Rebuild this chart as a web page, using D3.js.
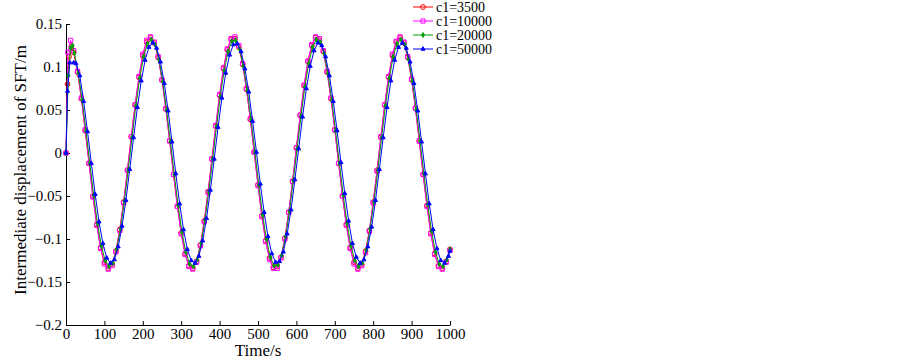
<!DOCTYPE html>
<html><head><meta charset="utf-8">
<script src="https://cdn.jsdelivr.net/npm/d3@7"></script>
<style>body{margin:0;background:#fff} svg{display:block} text{font-family:"Liberation Serif","Times New Roman",serif;fill:#000}</style>
</head><body>
<svg id="c" width="903" height="361" font-family="Liberation Serif, Times New Roman, serif"></svg>
<script>
const seriesNames = ["c1=3500","c1=10000","c1=20000","c1=50000"];
const seriesColors = ["#ff0000","#ff00ff","#00a000","#0000ff"];

const timeRed = [0,4,8,14,20,30,40,50,60,70,80,90,100,110,120,130,140,150,160,170,180,190,200,210,220,230,240,250,260,270,280,290,300,310,320,330,340,350,360,370,380,390,400,410,420,430,440,450,460,470,480,490,500,510,520,530,540,550,560,570,580,590,600,610,620,630,640,650,660,670,680,690,700,710,720,730,740,750,760,770,780,790,800,810,820,830,840,850,860,870,880,890,900,910,920,930,940,950,960,970,980,990,1000];
const valRed = [0,0.080,0.112,0.124,
0.117,0.094,0.063,0.026,-0.012,-0.050,-0.083,-0.110,-0.127,-0.134,
-0.129,-0.114,-0.089,-0.057,-0.020,0.019,0.056,0.088,0.113,0.129,
0.134,0.128,0.111,0.085,0.051,0.014,-0.025,-0.062,-0.093,-0.117,
-0.131,-0.134,-0.126,-0.107,-0.079,-0.045,-0.007,0.031,0.067,0.098,
0.120,0.132,0.133,0.123,0.103,0.074,0.039,0.001,-0.037,-0.073,
-0.102,-0.122,-0.133,-0.132,-0.121,-0.099,-0.069,-0.033,0.006,0.044,
0.078,0.106,0.125,0.134,0.131,0.118,0.094,0.063,0.027,-0.012,
-0.050,-0.083,-0.110,-0.127,-0.134,-0.130,-0.114,-0.090,-0.057,-0.020,
0.018,0.056,0.088,0.113,0.129,0.134,0.128,0.111,0.085,0.052,
0.014,-0.025,-0.061,-0.093,-0.117,-0.131,-0.134,-0.126,-0.112];

const timeMagenta = [0,5,12,20,30,40,50,60,70,80,90,100,110,120,130,140,150,160,170,180,190,200,210,220,230,240,250,260,270,280,290,300,310,320,330,340,350,360,370,380,390,400,410,420,430,440,450,460,470,480,490,500,510,520,530,540,550,560,570,580,590,600,610,620,630,640,650,660,670,680,690,700,710,720,730,740,750,760,770,780,790,800,810,820,830,840,850,860,870,880,890,900,910,920,930,940,950,960,970,980,990,1000];
const valMagenta = [0,0.117,0.131,
0.119,0.095,0.064,0.027,-0.012,-0.051,-0.084,-0.111,-0.129,-0.135,
-0.131,-0.115,-0.090,-0.058,-0.020,0.019,0.056,0.089,0.115,0.131,
0.135,0.129,0.112,0.085,0.052,0.014,-0.025,-0.062,-0.094,-0.118,
-0.132,-0.135,-0.127,-0.108,-0.080,-0.046,-0.007,0.032,0.068,0.099,
0.121,0.133,0.135,0.125,0.104,0.075,0.040,0.001,-0.038,-0.074,
-0.103,-0.124,-0.134,-0.134,-0.122,-0.100,-0.069,-0.033,0.006,0.044,
0.079,0.107,0.126,0.135,0.133,0.119,0.095,0.064,0.027,-0.012,
-0.050,-0.084,-0.111,-0.129,-0.135,-0.131,-0.116,-0.091,-0.058,-0.021,
0.019,0.056,0.089,0.115,0.130,0.135,0.129,0.112,0.086,0.052,
0.014,-0.025,-0.062,-0.094,-0.118,-0.132,-0.135,-0.127,-0.113];

const timeGreen = [0,6,12,17,22,32,42,52,62,72,82,92,102,112,122,132,142,152,162,172,182,192,202,212,222,232,242,252,262,272,282,292,302,312,322,332,342,352,362,372,382,392,402,412,422,432,442,452,462,472,482,492,502,512,522,532,542,552,562,572,582,592,602,612,622,632,642,652,662,672,682,692,702,712,722,732,742,752,762,772,782,792,802,812,822,832,842,852,862,872,882,892,902,912,922,932,942,952,962,972,982,992,1000];
const valGreen = [0,0.090,0.122,0.125,
0.116,0.093,0.062,0.026,-0.012,-0.049,-0.082,-0.108,-0.125,-0.132,
-0.128,-0.112,-0.088,-0.056,-0.020,0.018,0.055,0.087,0.112,0.127,
0.132,0.126,0.109,0.083,0.050,0.013,-0.025,-0.061,-0.092,-0.115,
-0.129,-0.132,-0.124,-0.105,-0.078,-0.045,-0.007,0.031,0.066,0.096,
0.118,0.130,0.131,0.121,0.101,0.073,0.039,0.001,-0.037,-0.072,
-0.100,-0.121,-0.131,-0.130,-0.119,-0.097,-0.068,-0.032,0.005,0.043,
0.077,0.104,0.123,0.132,0.129,0.116,0.093,0.062,0.026,-0.012,
-0.049,-0.082,-0.108,-0.125,-0.132,-0.128,-0.113,-0.088,-0.057,-0.020,
0.018,0.055,0.087,0.112,0.127,0.132,0.126,0.109,0.084,0.051,
0.014,-0.024,-0.060,-0.091,-0.115,-0.129,-0.132,-0.124,-0.112];

const timeBlue = [0,4,10,20,26,36,46,56,66,76,86,96,106,116,126,136,146,156,166,176,186,196,206,216,226,236,246,256,266,276,286,296,306,316,326,336,346,356,366,376,386,396,406,416,426,436,446,456,466,476,486,496,506,516,526,536,546,556,566,576,586,596,606,616,626,636,646,656,666,676,686,696,706,716,726,736,746,756,766,776,786,796,806,816,826,836,846,856,866,876,886,896,906,916,926,936,946,956,966,976,986,996,1000];
const valBlue = [0,0.072,0.105,0.105,0.104,
0.090,0.060,0.025,-0.012,-0.048,-0.080,-0.105,-0.122,-0.128,
-0.124,-0.109,-0.085,-0.055,-0.019,0.018,0.053,0.084,0.108,0.123,
0.128,0.122,0.106,0.081,0.049,0.013,-0.024,-0.059,-0.089,-0.112,
-0.125,-0.128,-0.120,-0.102,-0.076,-0.043,-0.007,0.030,0.064,0.093,
0.114,0.126,0.127,0.118,0.098,0.071,0.037,0.001,-0.036,-0.069,
-0.097,-0.117,-0.127,-0.126,-0.115,-0.094,-0.066,-0.031,0.005,0.042,
0.075,0.101,0.119,0.128,0.125,0.112,0.090,0.060,0.026,-0.011,
-0.047,-0.079,-0.105,-0.121,-0.128,-0.124,-0.109,-0.086,-0.055,-0.019,
0.018,0.053,0.084,0.108,0.123,0.128,0.122,0.106,0.081,0.049,
0.013,-0.024,-0.059,-0.089,-0.111,-0.125,-0.128,-0.120,-0.114];

const xTicks = [0,100,200,300,400,500,600,700,800,900,1000];
const yTicks = [-0.2,-0.15,-0.1,-0.05,0,0.05,0.1,0.15];
const xLabel = "Time/s";
const yLabel = "Intermediate displacement of SFT/m";

const FONT = "Liberation Serif, Times New Roman, serif";
const svg = d3.select("#c");
const x = d3.scaleLinear().domain([0,1000]).range([66,450]);
const y = d3.scaleLinear().domain([-0.2,0.15]).range([325,24]);

const fmt = d => { const s = String(+(+d).toFixed(2)); return s.replace("-", "\u2212"); };

const gx = svg.append("g").attr("transform","translate(0,325)")
  .call(d3.axisBottom(x).tickValues(xTicks).tickSizeInner(-4).tickSizeOuter(0).tickPadding(3).tickFormat(d=>String(d)));
const gy = svg.append("g").attr("transform","translate(66,0)")
  .call(d3.axisLeft(y).tickValues(yTicks).tickSizeInner(-4).tickSizeOuter(0).tickPadding(4).tickFormat(fmt));
[gx,gy].forEach(g=>{
  g.attr("font-family",FONT).attr("font-size",15);
  g.selectAll("text").attr("font-family",FONT).style("font-family",FONT).style("font-size","15px").attr("fill","#000");
  g.selectAll("line,path").attr("stroke","#000").attr("stroke-width",1);
});

svg.append("text").attr("x",258).attr("y",356).attr("text-anchor","middle")
  .attr("font-family",FONT).style("font-size","17px").text(xLabel);
svg.append("text").attr("transform","translate(26,170) rotate(-90)").attr("text-anchor","middle")
  .attr("font-family",FONT).style("font-size","17px").text(yLabel);

const series = [
  {t:timeRed, v:valRed, sym:d3.symbolCircle, size:18, fill:"none"},
  {t:timeMagenta, v:valMagenta, sym:d3.symbolSquare, size:18, fill:"none"},
  {t:timeGreen, v:valGreen, sym:d3.symbolDiamond, size:7, fill:"fill"},
  {t:timeBlue, v:valBlue, sym:d3.symbolTriangle, size:7, fill:"fill"}
];
const line = d3.line().x(d=>x(d[0])).y(d=>y(d[1]));
series.forEach((s,i)=>{
  const pts = s.t.map((t,j)=>[t,s.v[j]]);
  const col = seriesColors[i];
  const g = svg.append("g");
  g.append("path").datum(pts).attr("d",line).attr("fill","none").attr("stroke",col).attr("stroke-width",1);
  g.selectAll("path.m").data(pts).enter().append("path").attr("class","m")
    .attr("transform",d=>`translate(${x(d[0])},${y(d[1])})`)
    .attr("d",d3.symbol().type(s.sym).size(s.size))
    .attr("fill",s.fill==="fill"?col:"none").attr("stroke",col).attr("stroke-width",1);
});

const leg = svg.append("g");
seriesNames.forEach((n,i)=>{
  const yy = 7 + 14*i, col = seriesColors[i], s = series[i];
  leg.append("line").attr("x1",413).attr("x2",433).attr("y1",yy).attr("y2",yy).attr("stroke",col).attr("stroke-width",1);
  leg.append("path").attr("transform",`translate(423,${yy})`).attr("d",d3.symbol().type(s.sym).size(s.size))
    .attr("fill",s.fill==="fill"?col:"none").attr("stroke",col);
  leg.append("text").attr("x",436).attr("y",yy).attr("dy","0.35em").attr("font-family",FONT).style("font-size","14px").text(n);
});
</script>
</body></html>
